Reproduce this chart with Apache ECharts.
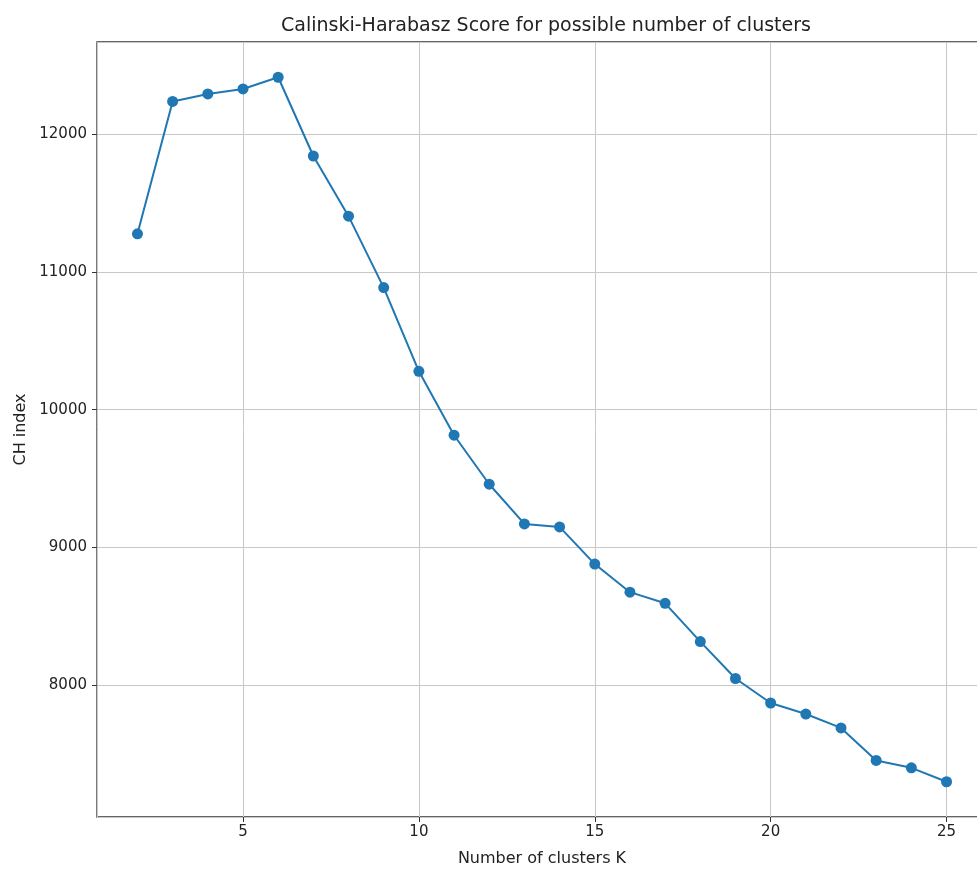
<!DOCTYPE html>
<html>
<head>
<meta charset="utf-8">
<script src="https://cdn.jsdelivr.net/npm/echarts@6/dist/echarts.min.js"></script>
<style>html,body{margin:0;padding:0;background:#fff;overflow:hidden;}#chart{width:1000px;height:872px;}</style>
</head>
<body>
<div id="chart"></div>
<script>
const titleText = 'Calinski-Harabasz Score for possible number of clusters';
const xName = 'Number of clusters K';
const yName = 'CH index';
const clusters = [2,3,4,5,6,7,8,9,10,11,12,13,14,15,16,17,18,19,20,21,22,23,24,25];
const chScores = [11278,12239,12294,12330,12415,11843,11406,10887,10279,9815,9459,9171,9149,8879,8675,8594,8316,8048,7870,7790,7689,7453,7399,7298];

const chart = echarts.init(document.getElementById('chart'));
const font = 'DejaVu Sans';
chart.setOption({
  backgroundColor: '#fff',
  animation: false,
  title: {
    text: titleText,
    left: 541, top: 12, textAlign: 'center',
    textStyle: {fontFamily: font, fontSize: 19, fontWeight: 'normal', color: '#222'}
  },
  grid: {
    left: 97, top: 42, height: 777, width: 890,
    show: true, borderColor: '#333', borderWidth: 1.3, backgroundColor: '#fff'
  },
  xAxis: {
    type: 'value', min: 0.85, max: 26.15, minInterval: 5, maxInterval: 5,
    name: xName, nameLocation: 'middle', nameGap: 34,
    nameTextStyle: {fontFamily: font, fontSize: 16, color: '#222'},
    axisLine: {show: false},
    axisTick: {show: true, inside: false, length: 5, lineStyle: {color: '#333'}},
    axisLabel: {fontFamily: font, fontSize: 15, color: '#222', margin: 8, showMinLabel: false, showMaxLabel: false},
    splitLine: {show: true, lineStyle: {color: '#c8c8c8', width: 1}}
  },
  yAxis: {
    type: 'value', min: 7042, max: 12671, minInterval: 1000, maxInterval: 1000,
    name: yName, nameLocation: 'middle', nameGap: 58,
    nameTextStyle: {fontFamily: font, fontSize: 16, color: '#222'},
    axisLine: {show: false},
    axisTick: {show: true, inside: false, length: 5, lineStyle: {color: '#333'}},
    axisLabel: {fontFamily: font, fontSize: 15, color: '#222', margin: 10, showMinLabel: false, showMaxLabel: false,
      formatter: v => String(v)},
    splitLine: {show: true, lineStyle: {color: '#c8c8c8', width: 1}}
  },
  series: [{
    type: 'line',
    data: clusters.map((k, i) => [k, chScores[i]]),
    symbol: 'circle', symbolSize: 11,
    lineStyle: {color: '#1f77b4', width: 2},
    itemStyle: {color: '#1f77b4'}
  }]
});
</script>
</body>
</html>
